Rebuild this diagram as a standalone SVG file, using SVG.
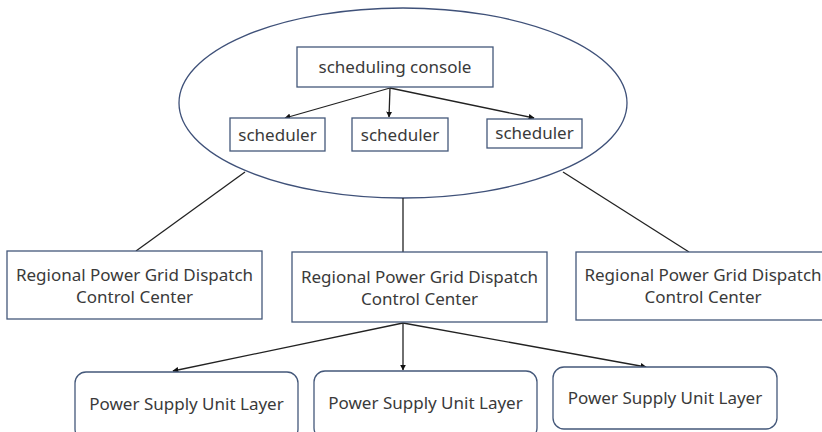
<svg xmlns="http://www.w3.org/2000/svg" width="822" height="432" viewBox="0 0 822 432">
<style>
.box{fill:#fff;stroke:#44587a;stroke-width:1.3}
.t{font-family:"Noto Sans","Liberation Sans",sans-serif;font-size:17px;fill:#3a3a3a;text-anchor:middle}
.c{stroke:#222;stroke-width:1.3;fill:none}
</style>
<defs>
<marker id="ah" viewBox="0 0 10 10" refX="9" refY="5" markerWidth="6" markerHeight="6" orient="auto" markerUnits="userSpaceOnUse">
<path d="M0,0 L10,5 L0,10 z" fill="#111"/>
</marker>
</defs>
<rect width="822" height="432" fill="#fff"/>
<g id="cluster">
<ellipse cx="403" cy="103" rx="224" ry="95" fill="none" stroke="#3f5179" stroke-width="1.3"/>
</g>
<g id="connectors">
<line class="c" x1="245" y1="172" x2="136" y2="251"/>
<line class="c" x1="403" y1="198" x2="403" y2="252"/>
<line class="c" x1="563" y1="172" x2="689" y2="252"/>
<line class="c" x1="390" y1="88" x2="285" y2="118" marker-end="url(#ah)"/>
<line class="c" x1="390" y1="88" x2="389" y2="117" marker-end="url(#ah)"/>
<line class="c" x1="390" y1="88" x2="534" y2="118" marker-end="url(#ah)"/>
<line class="c" x1="403" y1="323" x2="173" y2="371" marker-end="url(#ah)"/>
<line class="c" x1="403" y1="323" x2="403" y2="370" marker-end="url(#ah)"/>
<line class="c" x1="403" y1="323" x2="646" y2="367" marker-end="url(#ah)"/>
</g>
<g id="console">
<rect class="box" x="297" y="47" width="196" height="40"/>
<text class="t" x="395" y="73">scheduling console</text>
</g>
<g id="scheduler1">
<rect class="box" x="230" y="118" width="95" height="33"/>
<text class="t" x="277.5" y="141">scheduler</text>
</g>
<g id="scheduler2">
<rect class="box" x="352" y="118" width="96" height="33"/>
<text class="t" x="400" y="141">scheduler</text>
</g>
<g id="scheduler3">
<rect class="box" x="487" y="119" width="95" height="29"/>
<text class="t" x="534.5" y="139">scheduler</text>
</g>
<g id="regional1">
<rect class="box" x="7" y="251" width="255" height="68"/>
<text class="t" x="134.5" y="281">Regional Power Grid Dispatch</text>
<text class="t" x="134.5" y="303">Control Center</text>
</g>
<g id="regional2">
<rect class="box" x="292" y="252" width="255" height="70"/>
<text class="t" x="419.5" y="283">Regional Power Grid Dispatch</text>
<text class="t" x="419.5" y="305">Control Center</text>
</g>
<g id="regional3">
<rect class="box" x="576" y="252" width="255" height="68"/>
<text class="t" x="703" y="281">Regional Power Grid Dispatch</text>
<text class="t" x="703" y="303">Control Center</text>
</g>
<g id="psu1">
<rect class="box" x="75" y="372" width="223" height="68" rx="11"/>
<text class="t" x="186.5" y="410">Power Supply Unit Layer</text>
</g>
<g id="psu2">
<rect class="box" x="314" y="371" width="223" height="68" rx="11"/>
<text class="t" x="425.5" y="409">Power Supply Unit Layer</text>
</g>
<g id="psu3">
<rect class="box" x="553" y="367" width="224" height="62" rx="11"/>
<text class="t" x="665" y="404">Power Supply Unit Layer</text>
</g>
</svg>
